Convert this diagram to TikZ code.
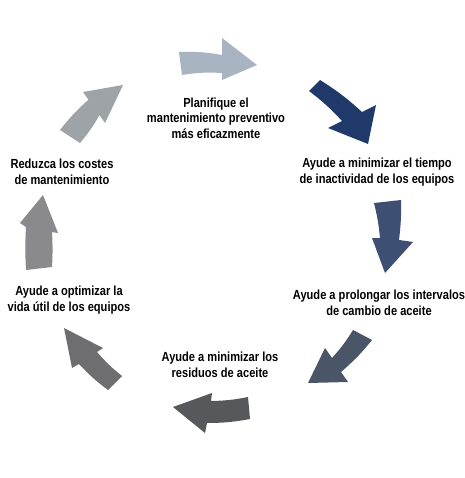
\documentclass[tikz,border=0pt]{standalone}
\usepackage{fontspec}
\setmainfont{Liberation Sans}[FakeStretch=0.84]
\definecolor{c1}{HTML}{A9B4C2}
\definecolor{c2}{HTML}{1F3A6A}
\definecolor{c3}{HTML}{3D5073}
\definecolor{c4}{HTML}{4A5568}
\definecolor{c5}{HTML}{56585C}
\definecolor{c6}{HTML}{6E6E70}
\definecolor{c7}{HTML}{8A8A8C}
\definecolor{c8}{HTML}{9EA3A8}
\tikzset{
  lbl/.style={align=center,font=\bfseries\fontsize{13.2}{15.5}\selectfont,text=black,inner sep=0pt}
}
\begin{document}
\begin{tikzpicture}[x=1pt,y=-1pt]
\useasboundingbox[fill=white] (0,0) rectangle (464,478);
% arrows
\fill[c1] (179,52) to[bend left=6] (222,55) -- (222,38) -- (257,65) -- (222,80) -- (222,73) to[bend right=6] (182,75) -- cycle;
\fill[c2] (320,80) to[bend left=5] (362,112) -- (376,105) -- (368,144) -- (328,128) -- (342,121) to[bend right=5] (309,91) -- cycle;
\fill[c3] (374,203) -- (401,200) to[bend left=4] (399,240) -- (413,242) -- (385,273) -- (372,238) -- (380,238) to[bend right=4] cycle;
\fill[c4] (353,330) -- (372,340) to[bend left=5] (341,372) -- (348,382) -- (308,383) -- (325,348) -- (332,358) to[bend right=5] cycle;
\fill[c5] (248,397) -- (250,419) to[bend left=5] (207,423) -- (205,433) -- (173,407) -- (212,393) -- (211,401) to[bend right=5] cycle;
\fill[c6] (122,376) -- (108,390) to[bend left=5] (79,364) -- (72,368) -- (64,328) -- (103,348) -- (97,352) to[bend right=5] cycle;
\fill[c7] (26,270) -- (52,267) to[bend right=3] (52,232) -- (58,233) -- (43,195) -- (20,223) -- (26,227) to[bend right=3] cycle;
\fill[c8] (60,130) -- (80,143) to[bend right=5] (99.5,115) -- (105,123) -- (123,85) -- (83,92) -- (88.5,99.75) to[bend right=5] cycle;
% labels
\node[lbl] (t1) at (216,118) {Planifique el\\mantenimiento preventivo\\más eficazmente};
\node[lbl] (t2) at (377,172) {Ayude a minimizar el tiempo\\de inactividad de los equipos};
\node[lbl] (t3) at (379,303) {Ayude a prolongar los intervalos\\de cambio de aceite};
\node[lbl] (t4) at (220,365) {Ayude a minimizar los\\residuos de aceite};
\node[lbl] (t5) at (69,300) {Ayude a optimizar la\\vida útil de los equipos};
\node[lbl] (t6) at (62,172) {Reduzca los costes\\de mantenimiento};
\end{tikzpicture}
\end{document}
